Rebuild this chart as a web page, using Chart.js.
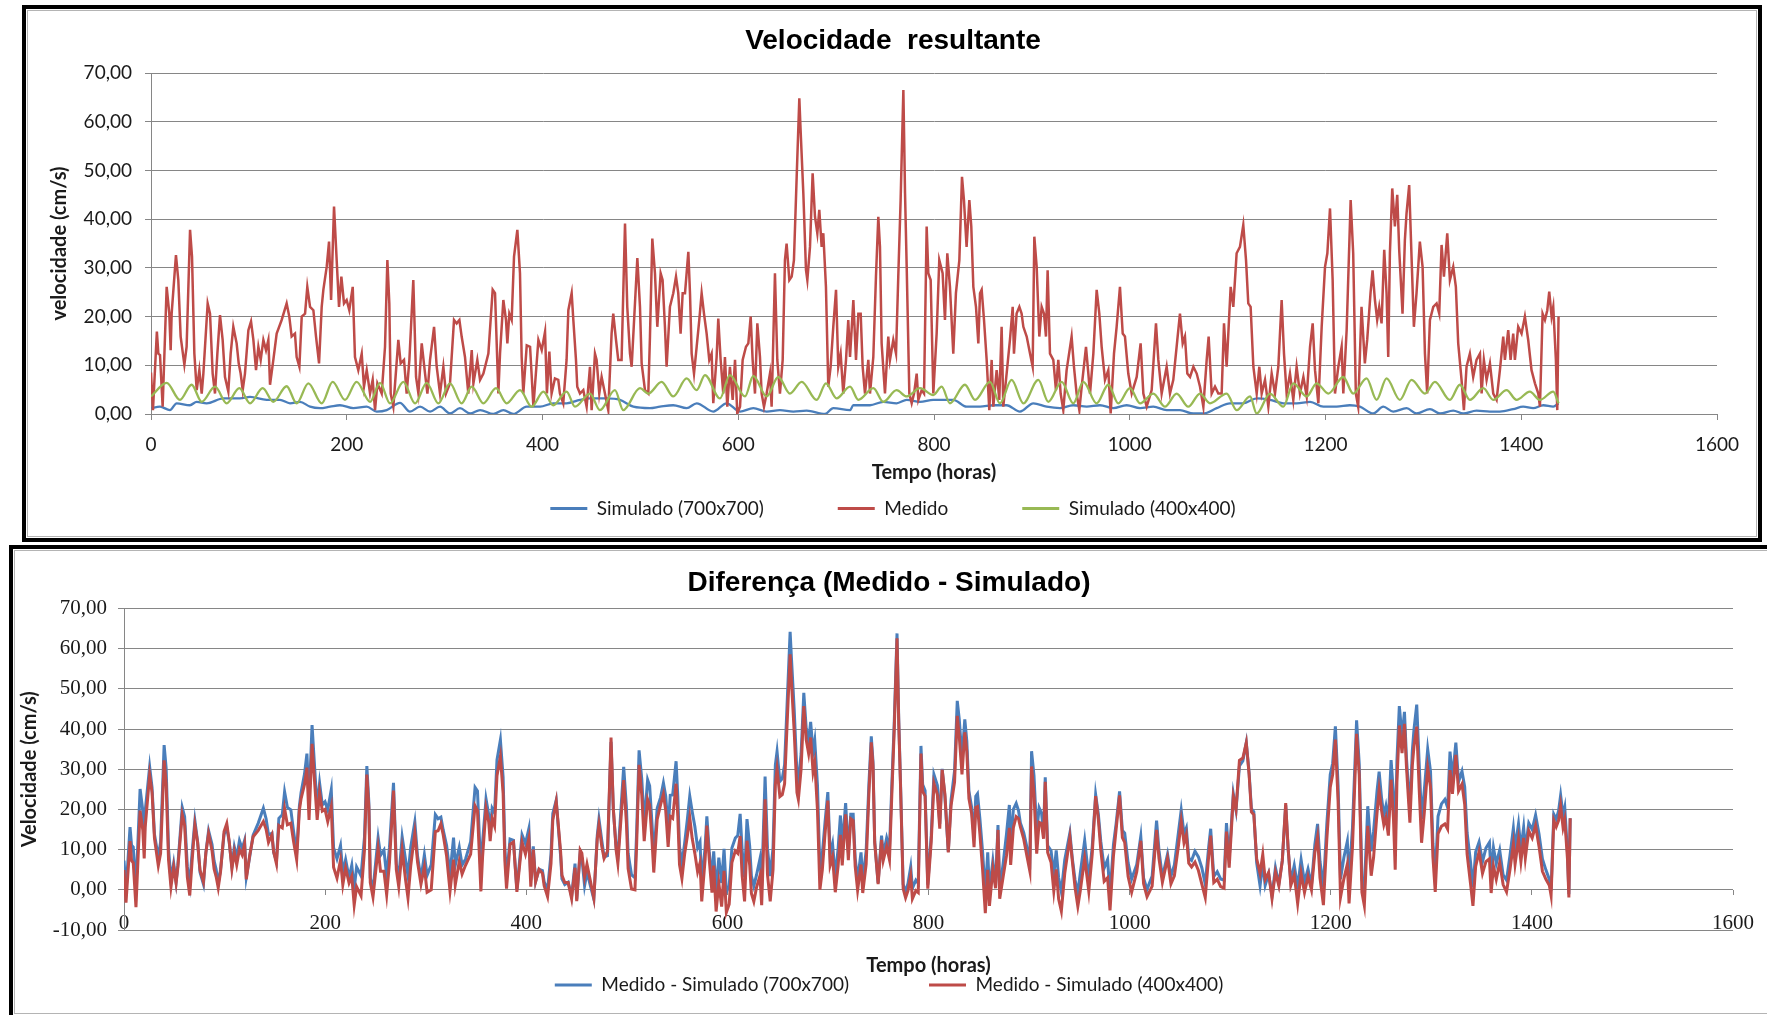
<!DOCTYPE html>
<html><head><meta charset="utf-8">
<script src="https://cdn.jsdelivr.net/npm/chart.js@4.4.1/dist/chart.umd.min.js"></script>
<style>
html,body{margin:0;padding:0;background:#fff;width:1767px;height:1015px;overflow:hidden;position:relative}
canvas{position:absolute;background:#fff}
#c1{left:22px;top:5px}
#c2{left:9px;top:545px}
.frame{position:absolute;border:4px solid #000;box-sizing:border-box;pointer-events:none}
.inner{position:absolute;border:1px solid #b4b4b4;box-sizing:border-box;pointer-events:none}
</style></head><body>
<canvas id="c1" width="1740" height="537"></canvas>
<canvas id="c2" width="1758" height="470"></canvas>
<div class="frame" style="left:22px;top:5px;width:1740px;height:537px"></div>
<div class="inner" style="left:27px;top:10px;width:1730px;height:527px"></div>
<div class="frame" style="left:9px;top:545px;width:1800px;height:520px"></div>
<div class="inner" style="left:14px;top:550px;width:1800px;height:464px"></div>
<script>
// ---------- tick values / labels ----------
const xTickValues = [0,200,400,600,800,1000,1200,1400,1600];
const xTickLabels = ['0','200','400','600','800','1000','1200','1400','1600'];
const yTickValuesTop = [0,10,20,30,40,50,60,70];
const yLabelsTop = ['0,00','10,00','20,00','30,00','40,00','50,00','60,00','70,00'];
const yTickValuesBottom = [-10,0,10,20,30,40,50,60,70];
const yLabelsBottom = ['-10,00','0,00','10,00','20,00','30,00','40,00','50,00','60,00','70,00'];

// ---------- Medido (hours / cm/s) ----------
const medidoHours = [
0,2,6,7.5,9.2,11.9,16,18.7,20.1,21.1,
25.5,27.9,30.3,34.1,36.4,39.9,41.9,44.3,46.7,49.4,
51.8,53.5,57.9,60.3,63,65.4,67.8,70.5,73.2,75.6,
79,81.4,84.1,87.5,89.6,91.6,93.7,96,99.5,102.2,
104.6,107.3,109.7,112.1,114.8,117.5,119.9,121.6,125,128.4,
133.5,138.6,141.3,143.7,147.1,148.8,151.6,154,157.4,159.7,
162.5,165.9,168.6,171.7,174.4,176.1,179.5,181.9,184,187,
189.7,192.1,194.5,197.2,199.9,202.6,206.1,208.4,211.8,215.3,
217.6,220.4,223.8,226.5,228.9,231.3,235.7,239.1,241.5,243.5,
244.9,247.6,252.7,255.1,258.5,261.2,264,268,270.8,273.2,
276.6,280,282.4,285.1,289.2,291.9,295.3,298.7,301.4,305.5,
309.6,312.3,315.1,317.4,320.8,324.2,327.7,329.4,333.4,336.2,
339.6,344.7,349.1,351.5,354.9,356.6,360,362.7,364.1,366.1,
368.5,370.9,374.3,377,378.7,380.4,383.9,387.3,390.7,395.8,
399.2,402.6,404.5,407,409.3,412.7,416.1,417.8,421.2,424.6,
426.4,429.8,431.5,434.2,435.5,438.3,441.7,445.1,448.5,450.2,
453.6,455.3,458,460.4,463.8,467.2,470.6,472.3,475.1,477.4,
480.8,484.3,486.6,489.4,491.1,496.9,499.6,501.3,504.7,508.1,
509.8,512.2,514.9,517.3,520.7,522.7,525.1,526.8,530.2,533.6,
536.4,538.7,541.1,543.2,545.6,549,550.7,552.4,554.8,557.5,
560.2,562.6,565,567.7,570.4,572.8,574.5,577.9,579.6,582,
584.7,586.4,588.8,591.5,594.3,596.7,599,601.8,604.5,607.9,
610.3,612.7,614.7,617.1,619.5,622.2,623.9,626.3,629,632.4,
634.1,637.5,639.9,642.6,645.4,647.7,649.4,652.2,654.6,656.9,
659.7,662.4,663.7,666.5,669.2,670.6,673.3,676,678.4,680.8,
682.8,685.2,686.9,689.6,692,694.4,697.1,699.9,702.2,704.6,
707.3,710.1,712.4,714.2,717.6,720.3,722.7,725.1,727.1,729.5,
732.9,734.6,738,740.7,743.1,744.8,746.5,749.9,753.3,755,
758.4,761.2,763.5,765.9,768.7,770.4,772.1,774.8,777.2,779.6,
782.3,784,787.4,789.8,792.5,794.2,796.6,799.3,802.7,805.4,
808.8,811.2,813.6,816.3,819.7,822.4,825.9,828.6,830.6,833.3,
836.1,838.1,840.2,842.9,845.3,847,848.7,851.1,853.8,856.5,
858.9,860.6,864,866.7,869.1,870.8,874.2,877.6,880.4,881.7,
884.4,887.2,889.5,891.3,894.7,898.1,900.8,902.5,904.9,907.6,
910,912.4,914.4,916.1,918.5,921.9,924.6,927,929.4,932.1,
935.5,940.6,943,945.7,948.5,950.9,955.3,957.7,959.4,962.8,
966.2,968.9,971.3,974.7,978.1,980.5,983.9,986.6,990,992.8,
995.1,998.5,1002,1007.1,1011.1,1013.9,1017.3,1022.4,1026.8,1029.2,
1032.6,1037.7,1041.1,1044.5,1048.6,1051.3,1054.1,1056.4,1058.8,1061.6,
1065,1068.4,1071.8,1075.2,1078.6,1080.6,1083.7,1087.1,1090.5,1093.9,
1096.3,1099,1103.1,1105.8,1109.2,1112.6,1116,1118.8,1121.1,1123.5,
1126.3,1129.7,1132.4,1134.8,1138.2,1141.6,1145,1148.4,1151.8,1155.2,
1157.6,1160.3,1163.7,1167.1,1170.5,1173.9,1177.4,1180.8,1184.2,1186.9,
1189.3,1192.7,1196.1,1199.5,1201.9,1204.6,1207.3,1209.7,1213.1,1216.5,
1218.2,1221.6,1225.7,1228.3,1231,1233.4,1236.8,1240.2,1242.6,1246,
1248.1,1250.5,1252.8,1254.9,1257.3,1260,1262.4,1264.1,1265.8,1268.2,
1270.9,1273.3,1275.3,1278.7,1281.1,1282.8,1285.5,1287.9,1290.3,1293,
1296.4,1299.2,1301.6,1303.9,1306.7,1310.1,1313.5,1316.2,1318.6,1321,
1324.4,1327.1,1330.5,1333.2,1335.6,1339,1341.4,1344.1,1347.5,1350.9,
1354.3,1357.8,1359.5,1361.8,1364.6,1368,1371.4,1374.8,1378.2,1381.6,
1383.3,1386.7,1389.1,1391.8,1393.5,1396.9,1400.3,1403.7,1407.1,1410.5,
1414,1417.4,1419.1,1421.8,1424.2,1426.6,1428.6,1431,1432.7,1435.4,
1436.8,1438.1
];
const medidoValues = [
8.5,0.8,16.9,12.4,12.1,1.5,26.1,20.6,13.1,20.6,
32.6,27.5,15.9,10.1,13.8,37.8,32.3,12.4,4.9,9.0,
4.2,8.3,22.7,20.6,8.3,4.2,12.4,20.3,15.2,7.6,
4.6,12.4,17.9,14.5,10.4,8.3,4.9,8.3,17.2,19.0,
15.2,9.0,13.8,11.1,15.2,13.1,15.2,6.0,11.1,16.5,
19.3,22.7,20.0,15.9,16.5,11.7,9.7,20.0,20.6,26.1,
22.0,21.3,15.9,10.4,22.0,25.5,30.2,35.4,23.4,42.6,
31.6,22.0,28.2,22.7,23.4,21.3,26.1,11.7,9.0,12.4,
5.6,9.0,4.2,7.0,0.8,6.3,4.2,13.8,31.6,22.7,
4.2,1.5,15.2,10.4,11.1,4.2,11.1,27.5,7.6,4.2,
14.5,8.3,4.2,11.1,17.9,9.7,4.2,9.7,4.2,6.3,
19.3,18.6,19.3,15.9,11.7,4.2,13.1,6.3,11.1,7.0,
8.3,12.4,25.5,24.8,4.2,12.4,23.4,19.3,14.5,20.6,
19.3,32.3,37.8,28.9,11.7,4.2,14.1,13.8,1.5,15.2,
13.1,16.9,4.2,12.8,4.2,7.3,7.0,4.2,2.2,11.1,
21.3,24.8,19.3,11.1,5.6,4.2,4.9,1.5,9.7,0.8,
12.4,11.1,4.2,7.6,4.2,0.8,16.5,20.6,15.2,11.1,
11.1,39.1,22.0,12.4,9.7,32.0,22.0,10.4,4.9,4.2,
15.9,36.0,28.9,17.9,28.9,27.5,17.9,9.7,22.0,24.8,
28.2,24.8,16.5,24.8,24.8,33.3,24.8,12.4,8.3,13.8,
19.3,24.8,20.6,16.5,11.1,12.4,2.2,11.7,19.6,11.1,
4.2,11.7,1.5,9.7,2.9,11.1,0.1,1.5,11.1,13.8,
14.5,20.0,11.1,4.2,18.6,11.7,4.2,1.5,4.2,8.3,
1.5,28.9,11.1,4.2,11.1,31.6,35.0,27.5,28.2,31.6,
48.7,64.8,58.3,45.3,29.6,27.5,34.3,49.4,40.5,37.1,
41.9,34.3,37.1,26.1,5.6,9.7,17.9,25.5,9.7,12.4,
4.2,11.1,19.3,11.7,23.4,11.1,20.6,20.6,9.7,4.2,
11.1,4.2,11.7,28.2,40.5,34.3,14.5,4.2,15.9,11.1,
15.2,12.4,28.2,43.9,66.5,45.3,30.2,4.2,2.2,4.2,
8.3,2.9,4.9,4.2,38.5,28.9,27.5,4.2,16.5,31.6,
28.9,19.3,33.0,26.1,12.4,24.8,31.6,48.7,43.9,34.3,
43.9,38.5,26.1,22.0,14.5,24.8,25.5,19.3,11.1,0.8,
11.1,1.5,9.0,2.9,17.9,1.5,8.3,15.2,22.0,12.4,
20.6,22.0,20.6,17.9,15.9,12.4,9.7,36.4,30.2,15.9,
22.0,20.6,15.9,29.5,12.4,11.1,4.9,11.1,4.2,0.8,
9.0,15.9,9.7,4.2,0.8,5.6,13.8,8.3,4.2,12.4,
25.5,20.6,13.8,7.0,9.0,0.1,12.4,17.9,26.1,16.5,
15.9,8.3,4.2,7.6,14.5,4.2,1.5,4.9,18.6,11.1,
4.2,9.7,4.2,7.0,15.2,20.6,14.5,15.9,8.3,7.6,
9.7,8.3,5.6,1.5,11.1,15.9,4.2,5.6,4.2,4.2,
18.6,9.7,26.1,22.0,33.0,34.3,38.8,31.6,22.7,22.0,
9.7,4.2,9.7,4.2,7.0,1.5,8.3,4.2,9.7,23.4,
12.4,4.2,8.3,2.9,9.7,4.2,7.6,3.6,13.8,18.6,
9.0,2.2,17.9,30.2,33.0,42.2,27.5,4.2,9.7,13.8,
4.2,17.2,43.9,33.0,4.2,1.5,22.0,10.4,15.2,24.8,
29.5,23.4,19.3,22.0,18.6,33.7,24.8,11.7,33.0,46.3,
38.5,45.0,33.7,20.6,35.7,41.2,47.0,32.3,17.9,24.8,
35.4,30.2,12.4,4.2,19.3,22.0,22.7,20.6,34.7,28.2,
37.1,27.5,30.2,26.1,14.5,7.0,0.8,9.7,12.4,7.6,
11.1,12.4,4.2,11.1,7.0,10.4,4.2,2.9,9.0,15.9,
11.1,17.2,11.1,16.5,11.1,17.9,16.5,20.0,15.2,9.0,
6.3,4.2,1.5,20.6,19.3,21.3,25.1,20.0,22.0,11.1,
0.8,20.0
];

// ---------- Simulado (700x700) ----------
const sim700Hours = [
0,9.2,19.4,26.2,39.8,46.7,56.9,73.9,91,101.2,
118.2,131.8,142,152.2,162.5,172.7,182.9,193.1,206.7,220.4,
230.6,240.8,254.4,264.6,274.9,285.1,295.3,305.5,315.7,326,
336.2,349.8,360,370.2,383.9,397.5,411,424.6,438.3,448.5,
465.5,479.1,492.8,509.8,520,533.6,547.3,557.5,574.5,588.1,
601.8,615.4,629,642.6,656.3,669.9,688.6,697.1,714.2,717.6,
734.6,748.2,761.8,772.1,785.7,799.3,819.7,833.3,847,860.6,
874.2,887.8,901.5,915.1,928.7,942.3,956,969.6,983.2,996.8,
1010.5,1024.1,1037.7,1051.3,1065,1075.2,1088.8,1102.4,1116,1129.7,
1143.3,1156.9,1170.5,1184.2,1197.8,1211.4,1224.9,1235.1,1248.8,1259,
1269.2,1282.8,1293,1306.7,1316.9,1330.5,1340.7,1354.3,1368,1378.2,
1391.8,1402,1412.2,1422.5,1432.7,1438.1
];
const sim700Values = [
1.2,1.5,0.8,2.2,1.8,2.5,2.2,3.2,3.2,3.5,
2.9,2.9,2.2,2.5,1.5,1.2,1.5,1.8,1.2,1.5,
0.5,0.8,2.3,0.5,1.5,0.5,1.5,0.1,1.2,0.1,
0.8,0,0.8,0,1.5,1.5,2.2,2.2,2.9,3.2,
3.2,2.9,1.5,1.2,1.5,1.8,1.2,2.2,0.5,2.2,
0.5,1.2,0.5,0.8,0.5,0.7,0,1.2,0.8,1.8,
1.8,2.5,2.2,2.9,2.5,2.9,2.9,1.5,1.5,1.8,
1.8,0.5,2.2,1.5,1.2,1.8,1.5,1.8,1.2,1.8,
1.2,1.5,0.8,0.8,0.1,0.1,1.2,2.2,2.2,3.2,
2.9,2.2,2.2,2.5,1.5,1.5,1.8,1.5,0.1,1.5,
0.5,1.2,0.1,1,0.1,0.7,0.1,0.7,0.5,0.5,
1,1.5,1.2,1.8,1.5,2.2
];

// ---------- Simulado (400x400) ----------
const sim400Hours = [
0,16,29.6,41.5,51.8,65.4,77.3,90.3,101.2,114.1,
125,138.6,148.8,160.8,174.4,185.6,198.2,210.1,223.8,234,
244.2,257.8,269.8,281.7,293.6,305.5,317.4,327.7,339.6,352.5,
363.4,377,389,400.9,411,424.6,433.2,448.5,458.7,474,
482.5,499.6,508.1,521.7,533.6,547.3,557.5,566,581.3,591.5,
606.9,615.4,629,640.9,652.8,664.8,680.1,689.6,700.5,714.2,
722.7,738,748.2,761.8,772,785.7,799.3,807.8,816.3,831.6,
841.9,857.2,867.4,879.3,891.3,906.6,916.8,930.4,942.3,952.6,
966.2,978.1,988.3,1000.2,1010.5,1024.1,1036,1047.9,1059.8,1071.8,
1082,1099,1109.2,1122.9,1129.7,1143.3,1156.9,1167.1,1180.8,1191,
1202.9,1218.1,1228.3,1242,1252.2,1262.4,1276,1287.9,1301.6,1311.8,
1327.1,1337.3,1347.5,1361.2,1371.4,1385,1395.2,1408.8,1419,1432.7,
1438.1
];
const sim400Values = [
3.6,6.4,2.9,6,2.5,5.6,2.2,5.3,2.2,5.3,
2.5,5.7,2.2,6.3,2.2,6.6,2.9,6.6,2.5,6.4,
2.2,6.6,2.2,6.4,2.2,6.3,2.2,5.6,2.2,5.3,
2.2,4.9,1.5,4.6,1.8,4.6,1.5,4.2,0.8,4.9,
0.8,5.3,4.2,6.6,3.6,7.3,4.9,8,3.2,8,
3.6,7.8,3.6,7.6,4.2,6.6,2.9,6.3,3.2,5.6,
2.9,5.3,2.5,4.9,3.6,5.3,3.9,5.6,2.2,6,
2.9,6.6,2.2,7,2.2,7,2.5,6.6,2.2,6.6,
2.2,6,2.2,5.3,2.2,4.2,1.5,4.2,1.5,4.2,
2.2,4.2,0.8,3.6,0.1,4.2,1.5,6.3,3.6,6.3,
4.2,7.6,4.2,7.3,2.9,7.3,2.9,7,4.2,6.6,
2.9,6,2.9,5.3,2.9,4.9,2.9,4.6,2.9,4.6,
2.2
];

// ---------- Diferença (read at the Medido hours) ----------
const diff700Values = [
7.3,-0.4,15.6,11.1,10.6,0.2,25.1,19.7,12.2,19.6,
30.6,25.4,13.8,8.1,11.9,36.0,30.3,10.2,2.4,6.6,
1.9,6.0,20.5,18.2,5.7,1.4,9.5,17.2,12.0,4.4,
1.4,9.2,14.7,11.3,7.2,5.1,1.6,5.0,13.8,15.6,
11.9,5.8,10.7,8.1,12.2,10.2,12.3,3.1,8.2,13.6,
16.6,20.3,17.7,13.7,14.1,9.3,7.2,17.8,18.7,24.4,
20.5,19.9,14.6,9.2,20.8,24.2,28.8,33.9,21.8,41.0,
29.9,20.2,26.5,21.1,21.9,19.9,24.9,10.5,7.7,11.0,
4.2,7.5,3.0,6.1,0.2,5.7,3.5,13.0,30.8,21.7,
3.0,0.0,13.0,8.6,9.9,3.4,10.6,26.6,6.4,2.8,
13.2,7.5,3.5,10.6,16.9,8.4,2.7,8.7,3.6,6.2,
18.7,17.7,18.1,14.9,11.0,3.9,13.0,6.1,10.6,6.2,
7.6,12.0,25.5,24.6,3.8,11.9,22.6,18.7,14.0,20.3,
19.2,32.3,37.3,28.0,10.6,2.9,12.6,12.3,0.0,13.7,
11.5,15.2,2.4,10.8,2.1,5.1,4.8,2.0,0.0,8.9,
19.0,22.3,16.7,8.3,2.7,1.3,1.9,-1.6,6.5,-2.4,
9.2,7.9,1.0,4.4,1.0,-2.3,13.5,17.6,12.3,8.2,
8.5,36.8,19.9,10.6,8.1,30.6,20.7,9.1,3.7,3.0,
14.7,34.7,27.5,16.5,27.4,25.9,16.2,8.0,20.3,23.0,
26.6,23.3,15.1,23.5,23.6,32.0,23.3,10.7,6.4,11.6,
17.5,23.3,19.5,15.7,10.5,11.9,1.7,10.7,18.3,9.5,
2.3,9.6,-0.6,8.0,1.7,10.2,-0.6,1.0,10.4,12.9,
13.5,18.9,9.9,3.1,17.6,10.8,3.4,0.9,3.7,7.7,
0.9,28.2,10.3,3.4,10.4,31.0,34.4,27.0,27.7,31.1,
48.1,64.2,57.7,44.6,28.9,26.9,33.8,49.0,40.2,36.9,
41.8,34.3,37.1,26.0,5.1,8.9,16.8,24.3,8.6,11.4,
3.3,10.2,18.5,10.9,21.6,9.3,18.8,18.8,7.9,2.4,
9.3,2.4,9.7,26.1,38.2,32.0,12.1,1.7,13.5,8.7,
12.9,10.2,25.9,41.4,63.8,42.5,27.3,1.4,-0.5,1.6,
5.7,0.4,2.4,1.6,35.8,26.2,24.7,1.3,13.6,28.7,
26.0,16.4,30.1,23.2,9.5,22.3,29.6,47.0,42.4,32.8,
42.4,37.0,24.6,20.5,13.0,23.3,23.9,17.7,9.4,-1.0,
9.3,-0.3,7.2,1.1,16.1,-0.3,6.5,14.0,21.1,11.6,
20.0,21.5,19.7,16.7,14.2,10.3,7.7,34.5,28.4,14.2,
20.4,19.0,14.4,28.0,11.0,9.7,3.6,9.8,3.0,-0.5,
7.5,14.2,7.9,2.5,-0.8,4.1,12.3,6.8,2.6,10.7,
23.7,18.8,12.1,5.4,7.5,-1.3,11.2,16.5,24.5,14.8,
14.1,6.7,2.7,6.3,13.3,2.9,0.1,3.4,17.2,9.8,
3.1,8.9,3.4,6.2,14.4,19.8,13.9,15.4,7.9,7.3,
9.6,8.2,5.5,1.4,10.6,15.2,3.3,4.5,2.7,2.4,
16.6,7.6,23.9,19.8,30.8,32.1,36.6,29.2,20.2,19.4,
6.8,1.0,6.6,1.1,4.0,-1.5,5.5,1.5,7.2,21.1,
10.2,2.0,6.1,0.7,7.5,1.9,5.2,1.1,11.3,16.4,
7.1,0.6,16.4,28.7,31.5,40.7,26.0,2.7,8.1,12.1,
2.5,15.4,42.2,31.4,2.6,0.0,20.8,9.6,14.6,24.5,
29.4,22.9,18.5,20.9,17.2,32.3,23.7,10.7,32.1,45.7,
38.0,44.3,32.8,19.5,34.5,40.0,46.1,31.7,17.6,24.7,
35.0,29.5,11.6,3.3,18.3,21.4,22.5,20.5,34.4,27.8,
36.6,26.9,29.5,25.6,14.2,6.9,0.6,9.4,11.9,7.0,
10.4,11.8,3.6,10.5,6.5,9.9,3.7,2.4,8.5,15.3,
10.4,16.4,10.2,15.5,10.0,16.6,15.0,18.6,13.9,7.7,
4.9,2.6,-0.2,18.8,17.6,19.7,23.5,18.5,20.5,9.3,
-1.1,17.8
];
const diff400Values = [
4.9,-3.2,12.1,7.3,6.7,-4.3,19.7,14.9,7.8,15.6,
28.6,24.2,12.8,6.0,9.1,32.2,26.4,7.4,0.7,5.7,
1.7,5.4,18.7,16.0,3.1,-1.4,7.5,16.1,11.8,4.9,
2.0,9.2,14.0,9.8,5.2,3.3,0.5,4.5,14.5,16.5,
12.1,5.2,9.4,6.2,10.1,8.7,11.4,2.6,8.6,13.2,
14.8,17.0,15.1,11.8,13.7,9.5,6.5,16.0,15.4,20.2,
16.2,16.6,12.1,7.5,19.8,22.7,26.2,30.4,17.4,36.3,
26.2,17.4,24.3,19.6,20.0,17.0,20.7,5.6,2.9,7.4,
1.3,5.5,1.7,3.4,-3.8,0.8,-1.5,9.8,28.7,20.4,
1.8,-1.8,10.3,4.6,4.6,-1.2,6.8,24.7,5.0,0.8,
9.9,2.5,-2.0,5.9,14.2,6.9,1.4,5.7,-0.6,0.0,
14.5,14.7,16.4,13.7,8.4,-0.3,7.5,1.2,7.1,3.9,
6.1,8.9,20.9,19.7,-0.4,8.3,20.3,16.9,12.1,17.7,
15.9,28.4,33.2,24.0,7.3,0.3,11.3,11.9,-0.5,11.9,
8.9,12.8,0.8,10.0,2.0,5.1,4.1,1.0,-1.7,6.5,
17.3,22.0,17.2,9.4,3.6,1.8,1.8,-2.2,5.5,-2.8,
9.9,9.1,3.2,6.4,2.2,-2.1,12.7,16.2,10.8,7.8,
9.6,37.9,20.2,9.8,6.6,27.3,16.7,5.3,0.2,0.0,
11.4,31.1,23.5,12.1,22.5,21.1,12.1,4.3,17.5,21.2,
23.8,19.7,10.7,18.3,17.8,26.4,18.3,6.3,2.8,8.9,
13.4,18.0,12.8,9.0,4.5,6.7,-2.9,7.6,16.0,7.5,
-0.7,6.0,-5.4,1.7,-4.2,4.7,-5.6,-3.6,6.8,9.7,
9.1,13.4,3.5,-2.9,12.2,6.1,-0.9,-2.9,0.6,3.5,
-3.8,22.5,3.8,-2.9,5.0,26.2,30.1,23.2,23.7,26.4,
43.0,58.6,51.9,39.1,24.2,22.5,30.0,45.7,37.3,33.9,
37.9,29.4,31.7,19.8,0.0,4.9,13.9,22.2,6.1,8.2,
-0.6,5.9,13.7,6.1,18.8,7.4,17.7,17.2,5.8,-0.1,
6.3,-0.8,6.4,23.7,36.7,31.0,11.7,1.4,12.4,7.3,
10.8,7.5,23.5,39.6,62.6,41.6,26.6,0.3,-2.0,-0.2,
3.5,-2.2,-0.2,-0.7,33.9,24.5,23.3,0.3,11.9,26.5,
23.7,15.2,29.9,23.9,9.3,20.9,26.8,43.3,38.1,28.7,
39.2,34.4,22.7,18.9,10.6,20.5,20.7,13.9,5.0,-5.8,
5.0,-4.0,5.2,0.4,14.9,-2.2,3.2,8.6,15.4,6.2,
15.5,18.2,17.7,15.7,12.6,8.1,4.6,30.7,23.8,9.0,
16.8,16.5,12.7,26.9,9.3,6.8,-0.3,5.1,-2.3,-5.3,
4.1,13.1,7.2,0.6,-4.1,-0.3,7.9,3.1,-0.4,8.9,
23.3,17.5,10.0,2.1,3.0,-5.1,8.4,15.1,23.5,13.0,
11.8,3.3,-0.6,4.5,12.2,1.5,-1.7,0.9,14.9,7.8,
1.9,7.8,1.5,3.5,11.1,17.1,11.7,13.7,6.6,5.7,
6.9,4.8,1.4,-1.9,8.3,13.5,1.8,2.6,0.8,0.4,
14.5,5.5,23.2,20.0,32.2,32.8,36.6,28.7,19.4,18.7,
7.8,4.1,8.8,2.6,4.3,-2.2,4.4,1.0,7.2,21.6,
10.5,1.1,3.7,-3.4,4.1,-0.7,3.3,0.0,9.3,13.2,
3.0,-3.8,12.6,25.5,28.7,37.4,22.0,-1.9,2.8,6.4,
-3.4,10.7,38.8,28.8,-0.6,-3.9,15.9,3.5,8.1,19.1,
24.9,19.8,16.2,18.0,13.5,27.4,17.5,5.0,26.8,40.9,
34.0,41.3,30.6,16.7,30.9,35.8,40.6,25.3,11.7,19.1,
30.4,25.6,8.2,-0.5,14.0,15.8,16.4,15.1,29.8,23.9,
33.6,24.6,26.3,21.3,8.9,1.5,-4.0,5.8,9.5,4.1,
7.0,7.7,-0.8,5.9,2.6,6.8,1.3,-0.5,5.0,11.4,
6.4,12.6,7.0,12.9,7.9,14.7,12.9,16.0,10.8,4.6,
2.6,1.1,-1.4,17.3,15.7,17.3,20.9,15.5,17.4,7.7,
-1.9,17.8
];

// ---------- styling ----------
const BLUE = '#4A7EBB', RED = '#BE4B48', GREEN = '#98B954';
const GRID = '#868686', TXT = '#1a1a1a';
const SANS = 'Lato';

function pts(xs, ys) { return xs.map((x, i) => ({ x: x, y: ys[i] })); }
function legendLabels(chart) {
  return Chart.defaults.plugins.legend.labels.generateLabels(chart)
    .map(l => Object.assign({}, l, { lineWidth: 0, fillStyle: l.strokeStyle }));
}

// ---------- top chart ----------
new Chart(document.getElementById('c1'), {
  type: 'line',
  data: { datasets: [
    { label: 'Simulado (700x700)', data: pts(sim700Hours, sim700Values), borderColor: BLUE, backgroundColor: BLUE,
      borderWidth: 2.3, pointRadius: 0, cubicInterpolationMode: 'monotone', order: 3 },
    { label: 'Medido', data: pts(medidoHours, medidoValues), borderColor: RED, backgroundColor: RED,
      borderWidth: 2.5, pointRadius: 0, tension: 0, order: 2 },
    { label: 'Simulado (400x400)', data: pts(sim400Hours, sim400Values), borderColor: GREEN, backgroundColor: GREEN,
      borderWidth: 2.3, pointRadius: 0, cubicInterpolationMode: 'monotone', order: 1 }
  ]},
  options: {
    responsive: false, animation: false, events: [], devicePixelRatio: 1,
    layout: { padding: { left: 47, right: 45, top: 0, bottom: 14 } },
    plugins: {
      tooltip: { enabled: false },
      title: { display: true, text: 'Velocidade  resultante', color: '#000',
        font: { family: 'Liberation Sans', size: 28, weight: 'bold' }, padding: { top: 19.2, bottom: 15.2 } },
      legend: { position: 'bottom', labels: { boxWidth: 37, boxHeight: 3, padding: 74, color: TXT,
        font: { family: SANS, size: 19 }, sort: (a, b) => a.datasetIndex - b.datasetIndex, generateLabels: legendLabels } }
    },
    scales: {
      x: { type: 'linear', min: 0, max: 1600,
        afterBuildTicks: s => { s.ticks = xTickValues.map(v => ({ value: v })); },
        ticks: { color: TXT, font: { family: SANS, size: 19 }, mirror: true, padding: -42.4, maxRotation: 0, autoSkip: false,
          callback: (v, i) => xTickLabels[i] },
        grid: { drawOnChartArea: false, drawTicks: true, tickLength: 6, color: GRID, lineWidth: 1 },
        border: { display: true, color: GRID, width: 1 },
        title: { display: true, text: 'Tempo (horas)', color: TXT, font: { family: SANS, size: 20, weight: 'bold' },
          padding: { top: 0, bottom: -60 } },
        afterFit: s => { s.height = 11; } },
      y: { min: 0, max: 70,
        afterBuildTicks: s => { s.ticks = yTickValuesTop.map(v => ({ value: v })); },
        ticks: { color: TXT, font: { family: SANS, size: 19 }, padding: 13, callback: (v, i) => yLabelsTop[i] },
        grid: { color: GRID, lineWidth: 1, drawTicks: true, tickLength: 6 },
        border: { display: true, color: GRID, width: 1 },
        title: { display: true, text: 'velocidade (cm/s)', color: TXT, font: { family: SANS, size: 20, weight: 'bold' },
          padding: { top: -21, bottom: 0 } },
        afterFit: s => { s.width = 82; } }
    }
  }
});

// ---------- bottom chart ----------
new Chart(document.getElementById('c2'), {
  type: 'line',
  data: { datasets: [
    { label: 'Medido - Simulado (700x700)', data: pts(medidoHours, diff700Values), borderColor: BLUE, backgroundColor: BLUE,
      borderWidth: 3, pointRadius: 0, tension: 0, order: 2 },
    { label: 'Medido - Simulado (400x400)', data: pts(medidoHours, diff400Values), borderColor: RED, backgroundColor: RED,
      borderWidth: 3, pointRadius: 0, tension: 0, order: 1 }
  ]},
  options: {
    responsive: false, animation: false, events: [], devicePixelRatio: 1,
    layout: { padding: { left: 36, right: 34, top: 0, bottom: -24 } },
    plugins: {
      tooltip: { enabled: false },
      title: { display: true, text: 'Diferença (Medido - Simulado)', color: '#000',
        font: { family: 'Liberation Sans', size: 28, weight: 'bold' }, padding: { top: 21.2, bottom: 8.7 } },
      legend: { position: 'bottom', labels: { boxWidth: 37, boxHeight: 3, padding: 80, color: TXT,
        font: { family: SANS, size: 19 }, sort: (a, b) => a.datasetIndex - b.datasetIndex, generateLabels: legendLabels } }
    },
    scales: {
      x: { type: 'linear', min: 0, max: 1600,
        afterBuildTicks: s => { s.ticks = xTickValues.map(v => ({ value: v })); },
        ticks: { color: TXT, font: { family: 'Liberation Serif', size: 21 }, mirror: true, padding: -5.6, maxRotation: 0, autoSkip: false,
          callback: (v, i) => xTickLabels[i] },
        grid: { display: false, drawTicks: false },
        border: { display: false },
        title: { display: true, text: 'Tempo (horas)', color: TXT, font: { family: SANS, size: 20, weight: 'bold' },
          padding: { top: 0, bottom: -82.5 } },
        afterFit: s => { s.height = -34.5; } },
      x0: { axis: 'x', type: 'linear', min: 0, max: 1600, position: { y: 0 },
        afterBuildTicks: s => { s.ticks = xTickValues.map(v => ({ value: v })); },
        ticks: { display: false },
        grid: { drawOnChartArea: false, drawTicks: true, tickLength: 5, color: GRID },
        border: { display: false } },
      y: { min: -10, max: 70,
        afterBuildTicks: s => { s.ticks = yTickValuesBottom.map(v => ({ value: v })); },
        ticks: { color: TXT, font: { family: 'Liberation Serif', size: 21 }, padding: 11, callback: (v, i) => yLabelsBottom[i] },
        grid: { color: GRID, lineWidth: 1, drawTicks: true, tickLength: 6 },
        border: { display: true, color: GRID, width: 1 },
        title: { display: true, text: 'Velocidade (cm/s)', color: TXT, font: { family: SANS, size: 20, weight: 'bold' },
          padding: { top: -27, bottom: 0 } },
        afterFit: s => { s.width = 79; } }
    }
  }
});
</script>
</body></html>
